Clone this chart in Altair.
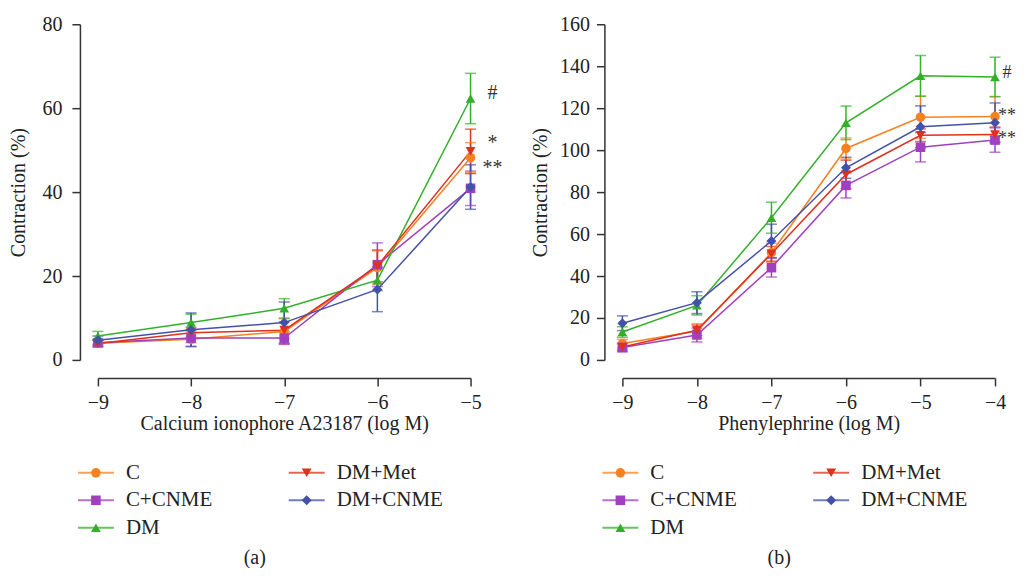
import altair as alt
import pandas as pd

FONT = "Liberation Serif"
INK = "#222222"

series = ["C", "C+CNME", "DM", "DM+Met", "DM+CNME"]
colors = ["#F58220", "#A040C0", "#33B02A", "#E0301E", "#4352A8"]
shapes = ["circle", "square", "triangle-up", "triangle-down", "diamond"]
msizes = [90, 100, 80, 80, 60]

# Panel (a): calcium ionophore A23187
a_x = [-9, -8, -7, -6, -5]
a_mean = {
    "C":       [4.0, 4.9, 6.8, 22.0, 48.2],
    "C+CNME":  [4.1, 5.2, 5.2, 22.7, 40.9],
    "DM":      [5.7, 8.9, 12.3, 19.0, 62.3],
    "DM+Met":  [3.9, 6.5, 7.1, 22.4, 49.7],
    "DM+CNME": [4.7, 7.2, 8.9, 16.8, 41.2],
}
a_sem = {
    "C":       [0.7, 0.8, 3.0, 4.0, 3.6],
    "C+CNME":  [0.8, 2.0, 1.5, 5.2, 4.1],
    "DM":      [1.1, 2.0, 2.3, 2.5, 6.0],
    "DM+Met":  [0.8, 1.2, 2.0, 3.8, 5.3],
    "DM+CNME": [1.0, 4.0, 4.9, 5.3, 5.3],
}
a_ann_label = ["#", "*", "**"]
a_ann_y = [63.5, 51.6, 45.8]

# Panel (b): phenylephrine
b_x = [-9, -8, -7, -6, -5, -4]
b_mean = {
    "C":       [7.8, 13.8, 51.1, 100.8, 115.7, 116.0],
    "C+CNME":  [5.9, 11.9, 44.0, 83.2, 101.4, 104.8],
    "DM":      [13.3, 26.0, 67.8, 113.0, 135.4, 134.9],
    "DM+Met":  [6.2, 14.1, 50.6, 88.4, 107.1, 107.5],
    "DM+CNME": [17.5, 27.3, 56.7, 91.6, 111.1, 113.0],
}
b_sem = {
    "C":       [2.0, 3.5, 4.5, 5.0, 10.0, 9.5],
    "C+CNME":  [2.0, 3.3, 4.5, 6.0, 7.0, 5.8],
    "DM":      [2.5, 4.6, 7.4, 8.0, 9.7, 9.4],
    "DM+Met":  [1.5, 2.5, 3.5, 6.8, 3.0, 3.5],
    "DM+CNME": [3.5, 5.2, 8.0, 5.0, 10.0, 9.5],
}
b_ann_label = ["#", "**", "**"]
b_ann_y = [136.8, 116.2, 105.2]


def long_df(xs, mean, sem):
    rows = []
    for s in series:
        for xv, m, e in zip(xs, mean[s], sem[s]):
            rows.append({"series": s, "x": xv, "y": m, "lo": m - e, "hi": m + e})
    return pd.DataFrame(rows)


color = alt.Color("series:N", scale=alt.Scale(domain=series, range=colors), legend=None)
shape = alt.Shape("series:N", scale=alt.Scale(domain=series, range=shapes), legend=None)
size = alt.Size("series:N", scale=alt.Scale(domain=series, range=msizes), legend=None)


def panel(xs, mean, sem, ann_labels, ann_y, ymax, ystep, xtitle,
          ylab_pad, ytitle_pad, ann_dx, ann_size):
    df = long_df(xs, mean, sem)
    xscale = alt.Scale(domain=[xs[0], xs[-1]], nice=False, zero=False)
    yscale = alt.Scale(domain=[0, ymax], nice=False)
    xaxis = alt.Axis(values=xs, format="d", offset=18, tickSize=8, grid=False,
                     labelFlush=False, labelPadding=7, titlePadding=1)
    yaxis = alt.Axis(values=list(range(0, ymax + 1, ystep)), offset=18, tickSize=8,
                     grid=False, labelFlush=False, labelPadding=ylab_pad,
                     titlePadding=ytitle_pad)

    def X(field="x"):
        return alt.X(f"{field}:Q", scale=xscale, axis=xaxis, title=xtitle)

    def Y(field):
        return alt.Y(f"{field}:Q", scale=yscale, axis=yaxis, title="Contraction (%)")

    base = alt.Chart(df)
    bars = base.mark_rule(strokeWidth=1.5).encode(x=X(), y=Y("lo"), y2="hi:Q", color=color)
    cap_hi = base.mark_tick(orient="horizontal", size=11, thickness=1.5).encode(
        x=X(), y=Y("hi"), color=color)
    cap_lo = base.mark_tick(orient="horizontal", size=11, thickness=1.5).encode(
        x=X(), y=Y("lo"), color=color)
    lines = base.mark_line(strokeWidth=1.5).encode(x=X(), y=Y("y"), color=color,
                                                   detail="series:N")
    pts = base.mark_point(filled=True, opacity=1).encode(
        x=X(), y=Y("y"), color=color, shape=shape, size=size)

    ann_df = pd.DataFrame({"x": [xs[-1]] * len(ann_labels), "y": ann_y, "label": ann_labels})
    ann = alt.Chart(ann_df).mark_text(dx=ann_dx, align="center", baseline="middle",
                                      font=FONT, fontSize=ann_size, color="#333333").encode(
        x=X(), y=Y("y"), text="label:N")

    return alt.layer(bars, cap_hi, cap_lo, lines, pts, ann).properties(width=373, height=336)


def legend(tag):
    ldf = pd.DataFrame({"series": series, "idx": list(range(len(series)))})
    b = alt.Chart(ldf).transform_calculate(
        row="datum.idx % 3",
        col="floor(datum.idx / 3)",
    ).transform_calculate(
        cx="datum.col * 211 - 2",
        ly="11 + datum.row * 27.5",
    ).transform_calculate(
        x1="datum.cx - 18",
        x2="datum.cx + 18",
        tx="datum.cx + 30",
    )
    seg = b.mark_rule(strokeWidth=2, opacity=0.75).encode(
        x=alt.X("x1:Q", scale=None), x2="x2:Q", y=alt.Y("ly:Q", scale=None), color=color)
    dot = b.mark_point(filled=True, opacity=1).encode(
        x=alt.X("cx:Q", scale=None), y=alt.Y("ly:Q", scale=None),
        color=color, shape=shape, size=size)
    txt = b.mark_text(align="left", baseline="middle", font=FONT, fontSize=21,
                      color=INK).encode(
        x=alt.X("tx:Q", scale=None), y=alt.Y("ly:Q", scale=None), text="series:N")
    lab = alt.Chart(pd.DataFrame({"t": [tag]})).mark_text(
        align="center", baseline="middle", font=FONT, fontSize=20, color=INK).encode(
        x=alt.value(157), y=alt.value(96), text="t:N")
    return alt.layer(seg, dot, txt, lab).properties(width=373, height=100)


chart = alt.concat(
    panel(a_x, a_mean, a_sem, a_ann_label, a_ann_y, 80, 20,
          "Calcium ionophore A23187 (log M)", 10, 13, 22, 20),
    panel(b_x, b_mean, b_sem, b_ann_label, b_ann_y, 160, 20,
          "Phenylephrine (log M)", 7, 9, 12, 18),
    legend("(a)"),
    legend("(b)"),
    columns=2, spacing={"row": 102, "column": 152}, bounds="flush",
).resolve_scale(
    x="independent", y="independent"
).properties(
    padding={"left": 1, "top": 6, "right": 0, "bottom": 0},
    background="white",
).configure_view(stroke=None).configure_axis(
    domainColor="#333333", domainWidth=1.5, tickColor="#333333", tickWidth=1.5,
    labelFont=FONT, labelFontSize=20, labelColor=INK,
    titleFont=FONT, titleFontSize=20, titleFontWeight="normal", titleColor=INK,
)

chart.save("out.html", embed_options={"renderer": "svg", "actions": False})
